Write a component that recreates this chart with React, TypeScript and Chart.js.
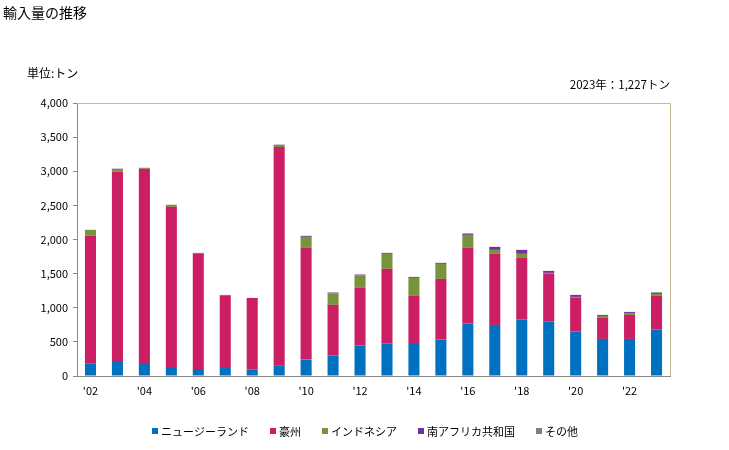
import React, { useEffect, useRef } from "react";
import { Chart, registerables } from "chart.js";

Chart.register(...registerables);

const years = ["2002","2003","2004","2005","2006","2007","2008","2009","2010","2011","2012","2013","2014","2015","2016","2017","2018","2019","2020","2021","2022","2023"];
const xTickLabels = ["'02","","'04","","'06","","'08","","'10","","'12","","'14","","'16","","'18","","'20","","'22",""];

const seriesNames = ["ニュージーランド", "豪州", "インドネシア", "南アフリカ共和国", "その他"];
const seriesColors = ["#0070c0", "#cc1e62", "#77933c", "#7030a0", "#808080"];

const newZealand = [181, 220, 190, 132, 103, 132, 93, 152, 240, 298, 445, 474, 484, 533, 768, 748, 826, 797, 650, 543, 543, 680];
const australia = [1878, 2778, 2847, 2347, 1692, 1046, 1051, 3203, 1638, 744, 846, 1096, 690, 890, 1110, 1042, 905, 699, 494, 308, 352, 494];
const indonesia = [83, 24, 14, 30, 0, 0, 0, 19, 161, 171, 186, 220, 264, 220, 190, 58, 59, 15, 15, 29, 29, 29];
const southAfrica = [0, 15, 0, 0, 9, 10, 0, 15, 15, 10, 10, 14, 14, 15, 20, 44, 58, 29, 29, 15, 15, 15];
const others = [0, 0, 0, 0, 0, 0, 0, 0, 0, 0, 0, 0, 0, 0, 0, 0, 0, 0, 0, 0, 0, 9];

const yTicks = [0, 500, 1000, 1500, 2000, 2500, 3000, 3500, 4000];

const titleText = "輸入量の推移";
const unitText = "単位:トン";
const noteText = "2023年：1,227トン";

const FONT = "'Noto Sans CJK JP', 'DejaVu Sans', sans-serif";

export default function App() {
  const ref = useRef<HTMLCanvasElement | null>(null);

  useEffect(() => {
    const canvas = ref.current;
    if (!canvas) return;
    const seriesData = [newZealand, australia, indonesia, southAfrica, others];

    const decor = {
      id: "decor",
      afterDraw(chart: any) {
        const ctx = chart.ctx;
        const a = chart.chartArea;
        ctx.save();
        ctx.strokeStyle = "#c5bb99";
        ctx.lineWidth = 1;
        ctx.beginPath();
        ctx.moveTo(a.left, Math.round(a.top) + 0.5);
        ctx.lineTo(Math.round(a.right) + 0.5, Math.round(a.top) + 0.5);
        ctx.lineTo(Math.round(a.right) + 0.5, a.bottom);
        ctx.stroke();

        ctx.fillStyle = "#000";
        ctx.textBaseline = "middle";
        ctx.font = `14px ${FONT}`;
        ctx.textAlign = "left";
        ctx.fillText(titleText, 3, 13);
        ctx.font = `12px ${FONT}`;
        ctx.fillText(unitText, 27, 73);
        ctx.font = `11.5px ${FONT}`;
        ctx.textAlign = "right";
        ctx.fillText(noteText, 670, 85);

        // legend
        ctx.font = `11px ${FONT}`;
        ctx.textAlign = "left";
        const box = 6;
        const gapBoxText = 3;
        const gapItems = 21;
        const widths = seriesNames.map((n) => box + gapBoxText + ctx.measureText(n).width);
        const total = widths.reduce((s, w) => s + w, 0) + gapItems * (widths.length - 1);
        let x = 365 - total / 2;
        const y = 432;
        seriesNames.forEach((n, i) => {
          ctx.fillStyle = seriesColors[i];
          ctx.fillRect(Math.round(x), y - 4, box, box);
          ctx.fillStyle = "#000";
          ctx.fillText(n, x + box + gapBoxText, y);
          x += widths[i] + gapItems;
        });
        ctx.restore();
      },
    };

    const chart = new Chart(canvas, {
      type: "bar",
      data: {
        labels: years,
        datasets: seriesNames.map((name, i) => ({
          label: name,
          data: seriesData[i],
          backgroundColor: seriesColors[i],
          borderWidth: 0,
          categoryPercentage: 1,
          barPercentage: 0.41,
        })),
      },
      options: {
        responsive: false,
        animation: false,
        layout: { padding: { top: 103, right: 59, left: 0, bottom: 0 } },
        plugins: {
          legend: { display: false },
          tooltip: { enabled: false },
          title: { display: false },
        },
        scales: {
          x: {
            stacked: true,
            grid: { display: false, drawTicks: false },
            border: { display: true, color: "#888888", width: 1 },
            ticks: {
              autoSkip: false,
              maxRotation: 0,
              padding: 8,
              color: "#000",
              font: { family: FONT, size: 11 },
              callback: (_v: any, i: number) => xTickLabels[i],
            },
            afterFit: (s: any) => { s.height = 74; },
          },
          y: {
            stacked: true,
            min: 0,
            max: 4000,
            afterBuildTicks: (s: any) => { s.ticks = yTicks.map((v) => ({ value: v })); },
            grid: { display: true, drawOnChartArea: false, drawTicks: true, tickLength: 4, color: "#888888" },
            border: { display: true, color: "#888888", width: 1 },
            ticks: {
              padding: 5,
              color: "#000",
              font: { family: FONT, size: 11 },
              callback: (v: any) => Number(v).toLocaleString("en-US"),
            },
            afterFit: (s: any) => { s.width = 77; },
          },
        },
      },
      plugins: [decor],
    });
    return () => chart.destroy();
  }, []);

  return (
    <div style={{ position: "absolute", left: 0, top: 0, width: 729, height: 450, background: "#fff" }}>
      <canvas ref={ref} width={729} height={450} style={{ width: 729, height: 450, display: "block" }} />
    </div>
  );
}
